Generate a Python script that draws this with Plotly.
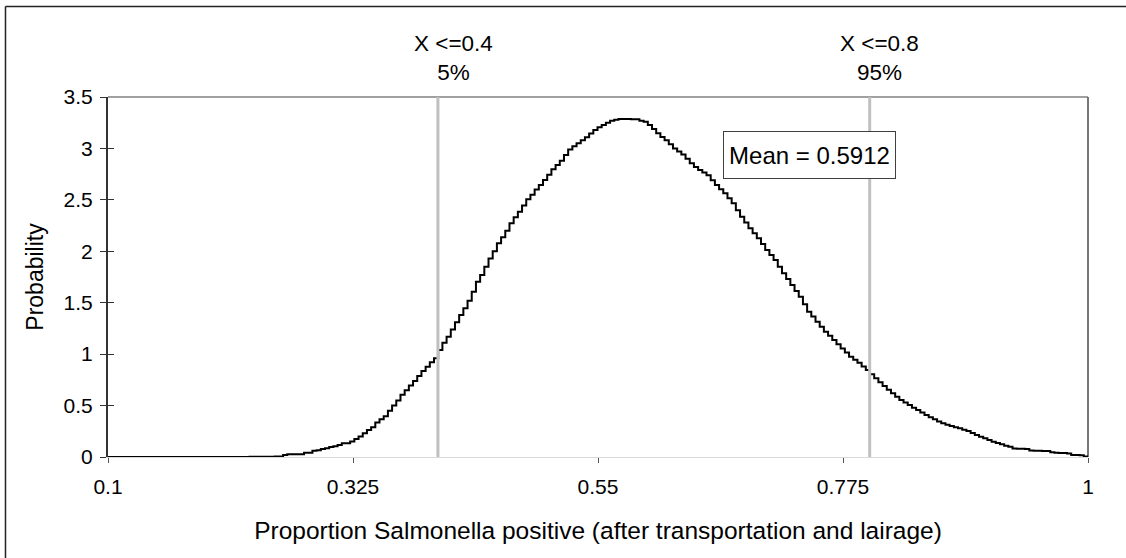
import plotly.graph_objects as go

# ---- data ----
bin_lo = 0.23          # first histogram bin start
bin_width = 0.00385    # histogram bin width (200 bins up to 1.0)
density = [
    0.003, 0.003, 0.003, 0.003, 0.003, 0.003, 0.005, 0.005, 0.02, 0.026,
    0.026, 0.026, 0.026, 0.042, 0.042, 0.061, 0.065, 0.078, 0.085, 0.097,
    0.105, 0.117, 0.133, 0.133, 0.15, 0.175, 0.2, 0.23, 0.262, 0.29,
    0.335, 0.366, 0.395, 0.45, 0.5, 0.55, 0.605, 0.65, 0.695, 0.739,
    0.787, 0.836, 0.878, 0.92, 0.96, 1.04, 1.11, 1.17, 1.24, 1.31,
    1.38, 1.446, 1.52, 1.607, 1.705, 1.77, 1.85, 1.93, 2.0, 2.077,
    2.136, 2.2, 2.272, 2.33, 2.385, 2.445, 2.505, 2.55, 2.6, 2.645,
    2.693, 2.745, 2.797, 2.84, 2.88, 2.935, 2.99, 3.02, 3.05, 3.08,
    3.108, 3.145, 3.18, 3.205, 3.228, 3.25, 3.27, 3.28, 3.286, 3.286,
    3.286, 3.283, 3.283, 3.27, 3.26, 3.228, 3.19, 3.147, 3.11, 3.08,
    3.04, 3.0, 2.97, 2.94, 2.9, 2.855, 2.82, 2.79, 2.765, 2.74,
    2.69, 2.644, 2.604, 2.564, 2.515, 2.466, 2.4, 2.336, 2.28, 2.223,
    2.175, 2.126, 2.07, 2.012, 1.965, 1.915, 1.85, 1.786, 1.73, 1.672,
    1.615, 1.559, 1.486, 1.413, 1.365, 1.316, 1.267, 1.218, 1.178, 1.137,
    1.096, 1.056, 1.015, 0.975, 0.946, 0.917, 0.88, 0.846, 0.805, 0.765,
    0.727, 0.69, 0.655, 0.619, 0.586, 0.554, 0.53, 0.506, 0.48, 0.457,
    0.432, 0.408, 0.387, 0.366, 0.345, 0.327, 0.314, 0.301, 0.29, 0.279,
    0.266, 0.253, 0.234, 0.214, 0.198, 0.182, 0.165, 0.149, 0.136, 0.123,
    0.11, 0.1, 0.082, 0.08, 0.08, 0.078, 0.062, 0.06, 0.06, 0.058,
    0.058, 0.045, 0.042, 0.04, 0.038, 0.035, 0.02, 0.02, 0.018, 0.005,
]
x_min, x_max = 0.1, 1.0
x_ticks = [0.1, 0.325, 0.55, 0.775, 1.0]
x_tick_labels = ["0.1", "0.325", "0.55", "0.775", "1"]
y_ticks = [0, 0.5, 1, 1.5, 2, 2.5, 3, 3.5]
y_tick_labels = ["0", "0.5", "1", "1.5", "2", "2.5", "3", "3.5"]
pct_values = [0.403, 0.7995]
pct_labels = ["X <=0.4<br>5%", "X <=0.8<br>95%"]
mean_value = 0.5912
x_title = "Proportion Salmonella positive (after transportation and lairage)"
y_title = "Probability"

# ---- build step curve ----
edges = [bin_lo + i * bin_width for i in range(len(density) + 1)]
xs = [x_min] + edges
ys = [0.0] + density + [density[-1]]

FONT = "Liberation Sans, Arial, sans-serif"

fig = go.Figure()
fig.add_trace(go.Scatter(
    x=xs, y=ys, mode="lines", line=dict(color="black", width=2, shape="hv"),
    showlegend=False, hoverinfo="skip"))
# dummy trace on yaxis2 for inner tick marks (cross ticks)
fig.add_trace(go.Scatter(x=[x_min], y=[0], yaxis="y2", mode="markers",
                         marker=dict(opacity=0), showlegend=False, hoverinfo="skip"))

fig.update_layout(
    width=1126, height=558,
    margin=dict(l=108, r=38, t=97, b=101, autoexpand=False),
    paper_bgcolor="white", plot_bgcolor="white",
    font=dict(family=FONT, size=21, color="black"),
    xaxis=dict(
        range=[x_min, x_max], tickvals=x_ticks, ticktext=x_tick_labels,
        ticks="outside", ticklen=5, tickwidth=1, tickcolor="#555555",
        ticklabelstandoff=6,
        showline=True, linecolor="#d9d9d9", linewidth=1,
        showgrid=False, zeroline=False, automargin=False,
        tickfont=dict(size=21),
        title=dict(text=x_title, font=dict(size=24.5), standoff=24),
    ),
    yaxis=dict(
        range=[0, 3.5], tickvals=y_ticks, ticktext=y_tick_labels,
        ticks="outside", ticklen=6, tickwidth=1, tickcolor="#333333",
        ticklabelstandoff=3,
        showline=True, linecolor="#333333", linewidth=2,
        showgrid=False, zeroline=False, automargin=False,
        tickfont=dict(size=21),
        title=dict(text=y_title, font=dict(size=23), standoff=14),
    ),
    yaxis2=dict(
        range=[0, 3.5], tickvals=y_ticks, overlaying="y", side="left",
        ticks="inside", ticklen=6, tickwidth=1, tickcolor="#333333",
        showticklabels=False, showline=False, showgrid=False, zeroline=False,
    ),
)

shapes = []
# plot area top and right border
shapes.append(dict(type="line", xref="paper", yref="paper", x0=0, x1=1, y0=1, y1=1,
                   line=dict(color="#808080", width=1.5), layer="below"))
shapes.append(dict(type="line", xref="paper", yref="paper", x0=1, x1=1, y0=0, y1=1,
                   line=dict(color="#777777", width=2), layer="below"))
# outer chart border: only its left and top edges fall inside the picture
shapes.append(dict(type="line", xref="paper", yref="paper",
                   x0=-0.1046, x1=-0.1046, y0=-0.35, y1=1.2514,
                   line=dict(color="#222222", width=1.5)))
shapes.append(dict(type="line", xref="paper", yref="paper",
                   x0=-0.1046, x1=1.2, y0=1.2514, y1=1.2514,
                   line=dict(color="#222222", width=1.5)))
for v in pct_values:
    shapes.append(dict(type="line", xref="x", yref="paper", x0=v, x1=v, y0=0, y1=1,
                       line=dict(color="#c0c0c0", width=3), layer="above"))
fig.update_layout(shapes=shapes)

annotations = []
for v, lab, sh in zip(pct_values, pct_labels, [16, 10]):
    annotations.append(dict(x=v, xref="x", y=1.108, yref="paper", text=lab,
                            showarrow=False, xanchor="center", yanchor="middle",
                            xshift=sh, font=dict(size=22.5, color="black")))
annotations.append(dict(x=0.7442, xref="x", y=2.936, yref="y",
                        text=f"Mean = {mean_value}", showarrow=False,
                        xanchor="center", yanchor="middle",
                        width=161, height=36, borderpad=5,
                        bgcolor="white", bordercolor="#404040", borderwidth=1,
                        font=dict(size=24, color="black")))
fig.update_layout(annotations=annotations)

fig.write_html(
    "out.html",
    config={"displayModeBar": False},
    post_script=(
        "document.body.style.margin='0';document.body.style.overflow='hidden';"
        "document.documentElement.style.overflow='hidden';"
    ),
)
